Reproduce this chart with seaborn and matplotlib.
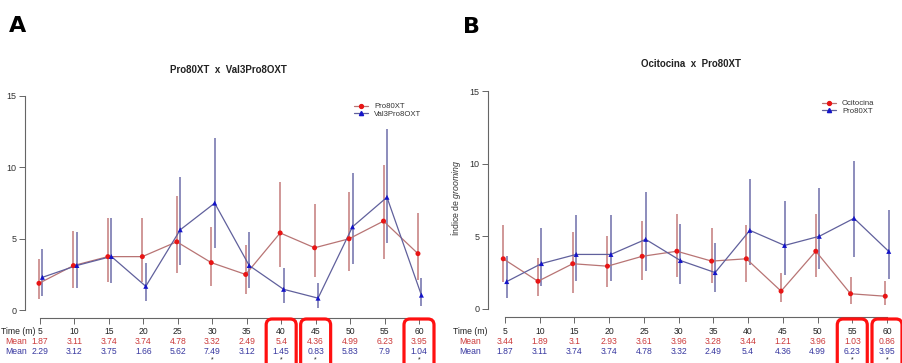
import numpy as np
import pandas as pd
import matplotlib
matplotlib.use("Agg")
import matplotlib.pyplot as plt
import seaborn as sns
from matplotlib.patches import FancyBboxPatch
from matplotlib.lines import Line2D
from matplotlib.transforms import blended_transform_factory, IdentityTransform

# ---------------- data ----------------
times = [5, 10, 15, 20, 25, 30, 35, 40, 45, 50, 55, 60]

pro_mean = [1.87, 3.11, 3.74, 3.74, 4.78, 3.32, 2.49, 5.4, 4.36, 4.99, 6.23, 3.95]
pro_hi = [3.6, 5.56, 6.48, 6.48, 8.02, 5.82, 4.56, 8.94, 7.4, 8.3, 10.15, 6.78]
pro_lo = [0.74, 1.55, 1.93, 1.93, 2.62, 1.68, 1.14, 3.0, 2.32, 2.75, 3.57, 2.08]

val_mean = [2.29, 3.12, 3.75, 1.66, 5.62, 7.49, 3.12, 1.45, 0.83, 5.83, 7.9, 1.04]
val_hi = [4.25, 5.5, 6.48, 3.3, 9.3, 12.03, 5.5, 2.92, 1.91, 9.62, 12.66, 2.24]
val_lo = [0.98, 1.53, 1.92, 0.65, 3.13, 4.37, 1.53, 0.51, 0.16, 3.24, 4.67, 0.29]

oci_mean = [3.44, 1.89, 3.1, 2.93, 3.61, 3.96, 3.28, 3.44, 1.21, 3.96, 1.03, 0.86]
oci_hi = [5.77, 3.51, 5.26, 5.0, 6.04, 6.51, 5.54, 5.77, 2.44, 6.53, 2.2, 1.89]
oci_lo = [1.86, 0.87, 1.06, 1.52, 1.98, 2.21, 1.75, 1.86, 0.44, 2.2, 0.34, 0.25]

yticks = [0, 5, 10, 15]
stars_A = [30, 40, 45, 60]
boxes_A = [40, 45, 60]
stars_B = [55, 60]
boxes_B = [55, 60]

# ---------------- style ----------------
sns.set_style("ticks")
plt.rcParams['font.family'] = ['Liberation Sans', 'DejaVu Sans']
plt.rcParams['mathtext.fontset'] = 'custom'
plt.rcParams['mathtext.it'] = 'Liberation Sans:italic'
plt.rcParams['mathtext.rm'] = 'Liberation Sans'

RED_MK = "#e81515"
BLUE_MK = "#1414c8"
RED_LN = "#b87474"
BLUE_LN = "#60609c"
RED_BAR = "#c47a7a"
BLUE_BAR = "#6e6eaa"
RED_TX = "#cc3b3b"
BLUE_TX = "#3838a0"
AX_COL = "#666666"
FS_TAB = 6.2

fig = plt.figure(figsize=(9.03, 3.63), dpi=100)
W, H = 903, 363


def panel(ax, name_r, m_r, lo_r, hi_r, name_b, m_b, lo_b, hi_b,
          off_r, off_b, xlim, ylim, stars, boxes, leg_anchor, lab_left):
    df = pd.DataFrame({
        "x": [t + off_r for t in times] + [t + off_b for t in times],
        "Mean": list(m_r) + list(m_b),
        "Group": [name_r] * len(times) + [name_b] * len(times),
    })
    # error bars
    ax.vlines([t + off_r for t in times], lo_r, hi_r, color=RED_BAR, lw=1.1, zorder=1)
    ax.vlines([t + off_b for t in times], lo_b, hi_b, color=BLUE_BAR, lw=1.1, zorder=1)
    # mean lines
    sns.lineplot(data=df, x="x", y="Mean", hue="Group",
                 palette={name_r: RED_LN, name_b: BLUE_LN},
                 lw=0.9, legend=False, ax=ax, zorder=2, sort=False)
    # markers
    sns.scatterplot(data=df, x="x", y="Mean", hue="Group", style="Group",
                    palette={name_r: RED_MK, name_b: BLUE_MK},
                    markers={name_r: "o", name_b: "^"}, s=13, linewidth=0,
                    legend=False, ax=ax, zorder=3)
    ax.set_xlim(*xlim)
    ax.set_ylim(*ylim)
    ax.set_xlabel("")
    ax.set_ylabel("")
    ax.set_yticks(yticks)
    ax.set_yticklabels([str(v) for v in yticks])
    ax.set_xticks(times)
    ax.set_xticklabels([""] * len(times))
    for s in ["top", "right"]:
        ax.spines[s].set_visible(False)
    ax.spines["left"].set_bounds(0, 15)
    ax.spines["bottom"].set_bounds(5, 60)
    for s in ["left", "bottom"]:
        ax.spines[s].set_color(AX_COL)
        ax.spines[s].set_linewidth(0.8)
    ax.tick_params(axis="both", length=4, width=0.7, color=AX_COL,
                   labelsize=6.5, labelcolor="#333333", pad=2)

    # table under x axis
    tr = blended_transform_factory(ax.transData, fig.transFigure)
    y_time, y_r, y_b, y_s = 1 - 331.5 / H, 1 - 341.5 / H, 1 - 351.5 / H, 1 - 359.5 / H
    if lab_left is None:
        kw = dict(transform=tr, ha="center", va="center", clip_on=False)
        xl = 0
    else:
        kw = dict(transform=blended_transform_factory(fig.transFigure, fig.transFigure),
                  ha="left", va="center", clip_on=False)
        xl = lab_left
    ax.text(xl, y_time, "Time (m)", fontsize=FS_TAB, color="#222222", **kw)
    ax.text(xl + (0.004 if lab_left is not None else 0), y_r, "Mean",
            fontsize=FS_TAB, color=RED_TX, **kw)
    ax.text(xl + (0.004 if lab_left is not None else 0), y_b, "Mean",
            fontsize=FS_TAB, color=BLUE_TX, **kw)
    for i, t in enumerate(times):
        ax.text(t, y_time, str(t), transform=tr, ha="center", va="center",
                fontsize=FS_TAB, color="#222222", clip_on=False)
        ax.text(t, y_r, f"{m_r[i]:g}", transform=tr, ha="center", va="center",
                fontsize=FS_TAB, color=RED_TX, clip_on=False)
        ax.text(t, y_b, f"{m_b[i]:g}", transform=tr, ha="center", va="center",
                fontsize=FS_TAB, color=BLUE_TX, clip_on=False)
    for t in stars:
        ax.text(t, y_s, "*", transform=tr, ha="center", va="center",
                fontsize=5, color="#222222", clip_on=False)
    # red highlight boxes
    for t in boxes:
        xc = ax.transData.transform((t, 0))[0]
        bw = 30
        p = FancyBboxPatch((xc - bw / 2, -8), bw, H - 319 + 8,
                           boxstyle="round,pad=0,rounding_size=6",
                           transform=IdentityTransform(), fill=False,
                           edgecolor="#ff1010", lw=2.3, clip_on=False)
        fig.add_artist(p)

    handles = [
        Line2D([], [], color=RED_LN, lw=0.9, marker="o", markersize=2.8,
               markerfacecolor=RED_MK, markeredgecolor=RED_MK),
        Line2D([], [], color=BLUE_LN, lw=0.9, marker="^", markersize=3.0,
               markerfacecolor=BLUE_MK, markeredgecolor=BLUE_MK),
    ]
    fig.legend(handles, [name_r, name_b], loc="upper left",
               bbox_to_anchor=leg_anchor, bbox_transform=fig.transFigure,
               frameon=False, fontsize=5.6, labelspacing=0.05,
               handlelength=1.8, handletextpad=0.8, borderpad=0,
               labelcolor="#333333")


# Panel A
axA = fig.add_axes([25 / W, 45 / H, 415 / W, 228 / H])
pxA = (419 - 40) / 55
xlimA = (5 - (40 - 25) / pxA, 5 - (40 - 25) / pxA + 415 / pxA)
ylimA = (-8 / 14.27, -8 / 14.27 + 228 / 14.27)
panel(axA, "Pro80XT", pro_mean, pro_lo, pro_hi,
      "Val3Pro8OXT", val_mean, val_lo, val_hi,
      -0.15, 0.35, xlimA, ylimA, stars_A, boxes_A, (350 / W, 1 - 99 / H),
      1.5 / W)

# Panel B
axB = fig.add_axes([488 / W, 46 / H, 412 / W, 232 / H])
pxB = (887 - 505) / 55
xlimB = (5 - (505 - 488) / pxB, 5 - (505 - 488) / pxB + 412 / pxB)
ylimB = (-8.3 / 14.51, -8.3 / 14.51 + 232 / 14.51)
panel(axB, "Ocitocina", oci_mean, oci_lo, oci_hi,
      "Pro80XT", pro_mean, pro_lo, pro_hi,
      -0.25, 0.25, xlimB, ylimB, stars_B, boxes_B, (818 / W, 1 - 96 / H),
      None)

# titles and panel letters
fig.text(228 / W, 1 - 70 / H, "Pro80XT  x  Val3Pro8OXT", ha="center", va="center",
         fontsize=7, fontweight="bold", color="#222222")
fig.text(691 / W, 1 - 64 / H, "Ocitocina  x  Pro80XT", ha="center", va="center",
         fontsize=7, fontweight="bold", color="#222222")
fig.text(18 / W, 1 - 26.5 / H, "A", ha="center", va="center", fontsize=16,
         fontweight="heavy", family="DejaVu Sans", color="black")
fig.text(472 / W, 1 - 27 / H, "B", ha="center", va="center", fontsize=16,
         fontweight="heavy", family="DejaVu Sans", color="black")
fig.text(456 / W, 1 - 198 / H, r"Índice de $\mathit{grooming}$", rotation=90,
         ha="center", va="center", fontsize=6.3, color="#333333")

fig.savefig("out.png", dpi=100)
